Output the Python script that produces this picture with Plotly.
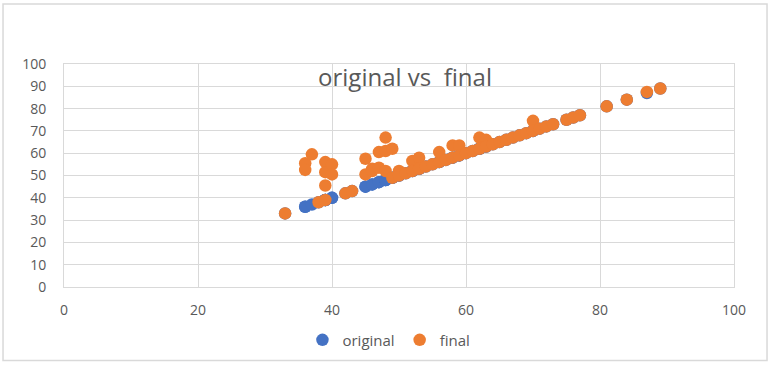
import plotly.graph_objects as go

original = [33, 36, 36, 37, 38, 39, 39, 39, 39, 40, 40, 42, 43, 45, 45, 46, 46, 47, 47, 48, 48, 48,
            49, 49, 50, 50, 51, 52, 52, 53, 53, 54, 55, 56, 56, 57, 58, 58, 59, 59, 60, 61,
            62, 62, 63, 63, 64, 65, 66, 67, 68, 69, 70, 70, 71, 72, 73, 75, 76, 77, 81, 84, 87, 89]
final = [33, 55.5, 52.5, 59.5, 38, 39, 56, 51.5, 45.5, 55, 50.5, 42, 43, 50.5, 57.5, 53, 52, 60.5, 53.5, 61, 67, 52,
         62, 49, 52, 50, 51, 56.5, 52, 58, 53, 54, 55, 56, 60.5, 57, 63.5, 58, 63.5, 59, 60, 61,
         67, 62, 66, 63, 64, 65, 66, 67, 68, 69, 74.5, 70, 71, 72, 73, 75, 76, 77, 81, 84, 87.5, 89]

x_ticks = [0, 20, 40, 60, 80, 100]
y_ticks = [0, 10, 20, 30, 40, 50, 60, 70, 80, 90, 100]

FONT = "'Open Sans', sans-serif"
GRID = "#D9D9D9"
TXT = "#595959"

fig = go.Figure()
fig.add_trace(go.Scatter(x=original, y=original, mode="markers", name="original",
                         marker=dict(color="#4472C4", size=12.5)))
fig.add_trace(go.Scatter(x=original, y=final, mode="markers", name="final",
                         marker=dict(color="#ED7D31", size=12.5)))

fig.update_layout(
    width=770, height=369,
    margin=dict(l=64, r=36, t=64, b=78),
    paper_bgcolor="white", plot_bgcolor="white",
    font=dict(family=FONT, color=TXT, size=13),
    title=dict(text="original vs  final", x=0.526, xanchor="center", y=0.791, yanchor="middle",
               font=dict(family=FONT, size=24, color=TXT)),
    showlegend=True,
    legend=dict(orientation="h", x=0.485, xanchor="center", y=-0.238, yanchor="middle",
                font=dict(family=FONT, size=15, color=TXT), itemwidth=30),
    xaxis=dict(range=[0, 100], tickvals=x_ticks, showgrid=True, gridcolor=GRID, gridwidth=1,
               zeroline=False, showline=True, linecolor=GRID, mirror=True,
               ticks="outside", ticklen=10, tickcolor="rgba(0,0,0,0)", tickfont=dict(size=14, color=TXT)),
    yaxis=dict(range=[0, 100], tickvals=y_ticks, showgrid=True, gridcolor=GRID, gridwidth=1,
               zeroline=False, showline=True, linecolor=GRID, mirror=True,
               ticks="outside", ticklen=14, tickcolor="rgba(0,0,0,0)", tickfont=dict(size=14, color=TXT)),
    shapes=[dict(type="rect", xref="paper", yref="paper",
                 x0=-0.0910, x1=1.0493, y0=-0.330, y1=1.269,
                 line=dict(color="#D9D9D9", width=1.5), fillcolor="rgba(0,0,0,0)", layer="below")],
)

fig.write_html("out.html", config={"displayModeBar": False},
               post_script="document.body.style.margin='0px';document.documentElement.style.overflow='hidden';")
